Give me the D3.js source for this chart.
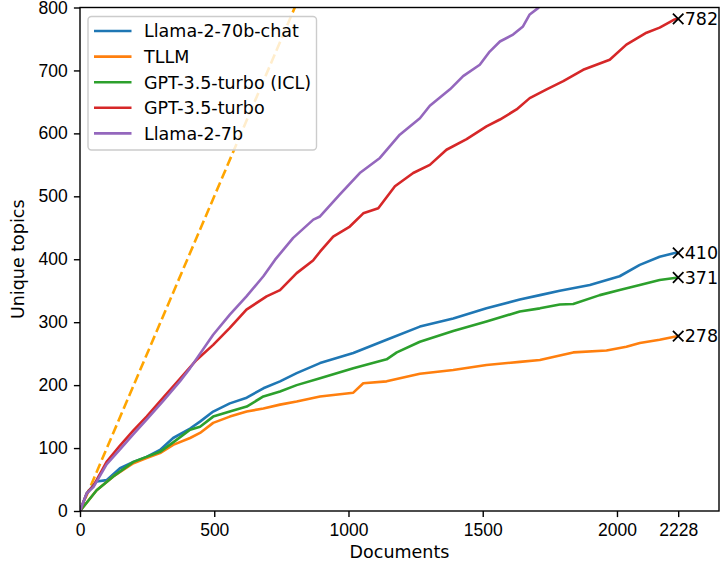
<!DOCTYPE html>
<html>
<head>
<meta charset="utf-8">
<script src="https://cdn.jsdelivr.net/npm/d3@7"></script>
<style>
	body { margin: 0; background: #fff; }
	svg { display: block; font-family: 'DejaVu Sans', sans-serif; }
	.axis text { font-size: 17.5px; fill: #000; }
	.axis line { stroke: #000; stroke-width: 1.4; }
	.axis .domain { display: none; }
</style>
</head>
<body>
<svg width="720" height="570"></svg>
<script>
/* global d3 */

// [documents, unique topics]
const llama70bChat = [[0, 0], [25, 28], [62, 47], [99, 49], [149, 68], [199, 78], [248, 86], [298, 97], [347, 116], [410, 131], [447, 142], [496, 158], [558, 171], [621, 180], [683, 195], [745, 206], [807, 219], [894, 235], [1018, 251], [1142, 272], [1266, 293], [1390, 306], [1514, 322], [1638, 336], [1713, 343], [1787, 350], [1899, 359], [2010, 373], [2085, 391], [2159, 404], [2215, 410], [2228, 410]];
const tllm = [[0, 0], [62, 33], [124, 55], [199, 76], [248, 84], [298, 92], [347, 105], [410, 116], [447, 124], [496, 140], [558, 150], [621, 158], [683, 163], [745, 169], [807, 174], [894, 182], [1018, 188], [1055, 203], [1142, 206], [1266, 218], [1390, 224], [1514, 232], [1638, 237], [1713, 240], [1787, 247], [1837, 252], [1961, 255], [2035, 261], [2085, 267], [2159, 272], [2228, 278]];
const gptIcl = [[0, 0], [62, 33], [124, 55], [199, 78], [248, 86], [298, 94], [347, 109], [410, 129], [447, 134], [496, 150], [558, 158], [621, 166], [683, 182], [745, 190], [807, 200], [894, 211], [1018, 227], [1142, 241], [1180, 252], [1266, 269], [1390, 286], [1514, 301], [1638, 317], [1713, 322], [1787, 328], [1837, 329], [1936, 343], [2010, 351], [2085, 359], [2159, 367], [2228, 371]];
const gpt = [[0, 0], [25, 28], [50, 40], [99, 78], [149, 104], [199, 128], [248, 150], [310, 180], [372, 210], [434, 240], [496, 264], [558, 291], [620, 320], [695, 341], [745, 351], [807, 378], [868, 398], [894, 412], [943, 436], [1005, 452], [1055, 473], [1111, 481], [1173, 516], [1241, 537], [1303, 550], [1365, 574], [1440, 591], [1514, 611], [1564, 622], [1626, 638], [1675, 656], [1738, 670], [1800, 683], [1874, 701], [1973, 717], [2035, 741], [2110, 760], [2159, 768], [2215, 781], [2228, 782]];
const llama7b = [[0, 0], [25, 28], [50, 38], [99, 74], [149, 98], [199, 122], [248, 145], [310, 175], [372, 206], [410, 227], [496, 280], [558, 312], [620, 341], [683, 373], [726, 399], [794, 434], [869, 463], [894, 468], [968, 503], [1042, 537], [1117, 561], [1191, 598], [1266, 624], [1303, 644], [1378, 670], [1427, 691], [1489, 709], [1526, 730], [1564, 746], [1613, 757], [1650, 770], [1675, 789], [1706, 799], [1740, 815]];

const seriesNames = ['Llama-2-70b-chat', 'TLLM', 'GPT-3.5-turbo (ICL)', 'GPT-3.5-turbo', 'Llama-2-7b'];
const seriesValues = [llama70bChat, tllm, gptIcl, gpt, llama7b];
const colors = ['#1f77b4', '#ff7f0e', '#2ca02c', '#d62728', '#9467bd'];
// which series get an end marker and label
const endSeries = [0, 1, 2, 3];
const diagonal = [[0, 0], [800, 800]];

const xTicks = [0, 500, 1000, 1500, 2000, 2228];
const yTicks = [0, 100, 200, 300, 400, 500, 600, 700, 800];
const X_MAX = 2380;
const Y_MAX = 800;

const MARGIN = { top: 7.5, right: 1, bottom: 59, left: 80 };
const W = 720 - MARGIN.left - MARGIN.right;
const H = 570 - MARGIN.top - MARGIN.bottom;
const LW = 2.6;
const FONT = '17.5px';

const $svg = d3.select('svg');
const $g = $svg.append('g').attr('transform', `translate(${MARGIN.left},${MARGIN.top})`);

const x = d3.scaleLinear().domain([0, X_MAX]).range([0, W]);
const y = d3.scaleLinear().domain([0, Y_MAX]).range([H, 0]);

$svg.append('defs')
	.append('clipPath')
	.attr('id', 'plot-clip')
	.append('rect')
	.attr('width', W)
	.attr('height', H);

const $vis = $g.append('g').attr('clip-path', 'url(#plot-clip)');
const line = d3.line().x(d => x(d[0])).y(d => y(d[1]));

$vis.append('path')
	.datum(diagonal)
	.attr('d', line)
	.attr('fill', 'none')
	.attr('stroke', '#ffa500')
	.attr('stroke-width', LW)
	.attr('stroke-dasharray', '9.7,4.2');

$vis.selectAll('path.series')
	.data(seriesValues)
	.enter()
	.append('path')
	.attr('class', 'series')
	.attr('d', line)
	.attr('fill', 'none')
	.attr('stroke', (d, i) => colors[i])
	.attr('stroke-width', LW)
	.attr('stroke-linejoin', 'round');

// end markers
const cross = d3.symbol().type(d3.symbolTimes).size(74);
const $ends = $g.selectAll('g.end')
	.data(endSeries.map(i => seriesValues[i][seriesValues[i].length - 1]))
	.enter()
	.append('g')
	.attr('class', 'end')
	.attr('transform', d => `translate(${x(d[0])},${y(d[1])})`);

$ends.append('path')
	.attr('d', cross)
	.attr('fill', 'none')
	.attr('stroke', '#000')
	.attr('stroke-width', 1.75);

$ends.append('text')
	.attr('x', 6.5)
	.attr('dy', '0.36em')
	.style('font-size', FONT)
	.text(d => d[1]);

// axes
const fmt = d3.format('d');
const xAxis = d3.axisBottom(x).tickValues(xTicks).tickFormat(fmt).tickSize(6.1).tickPadding(6.1).tickSizeOuter(0);
const yAxis = d3.axisLeft(y).tickValues(yTicks).tickFormat(fmt).tickSize(6.1).tickPadding(6.1).tickSizeOuter(0);

$g.append('g').attr('class', 'axis').attr('transform', `translate(0,${H})`).call(xAxis);
$g.append('g').attr('class', 'axis').call(yAxis);

$g.append('rect')
	.attr('width', W)
	.attr('height', H)
	.attr('fill', 'none')
	.attr('stroke', '#000')
	.attr('stroke-width', 1.4);

$g.append('text')
	.attr('x', W / 2)
	.attr('y', H + 47)
	.attr('text-anchor', 'middle')
	.style('font-size', FONT)
	.text('Documents');

$g.append('text')
	.attr('transform', `translate(${18 - MARGIN.left},${H / 2}) rotate(-90)`)
	.attr('text-anchor', 'middle')
	.attr('dy', '0.36em')
	.style('font-size', FONT)
	.text('Unique topics');

// legend
const $legend = $g.append('g').attr('transform', 'translate(8,9)');
$legend.append('rect')
	.attr('width', 228.5)
	.attr('height', 133.5)
	.attr('rx', 3.5)
	.attr('fill', '#fff')
	.attr('fill-opacity', 0.8)
	.attr('stroke', '#cccccc')
	.attr('stroke-width', 1.4);

const $item = $legend.selectAll('g.item')
	.data(seriesNames)
	.enter()
	.append('g')
	.attr('class', 'item')
	.attr('transform', (d, i) => `translate(0,${14.5 + i * 25.6})`);

$item.append('line')
	.attr('x1', 6)
	.attr('x2', 43.5)
	.attr('stroke', (d, i) => colors[i])
	.attr('stroke-width', LW);

$item.append('text')
	.attr('x', 56)
	.attr('dy', '0.36em')
	.style('font-size', FONT)
	.text(d => d);
</script>
</body>
</html>
